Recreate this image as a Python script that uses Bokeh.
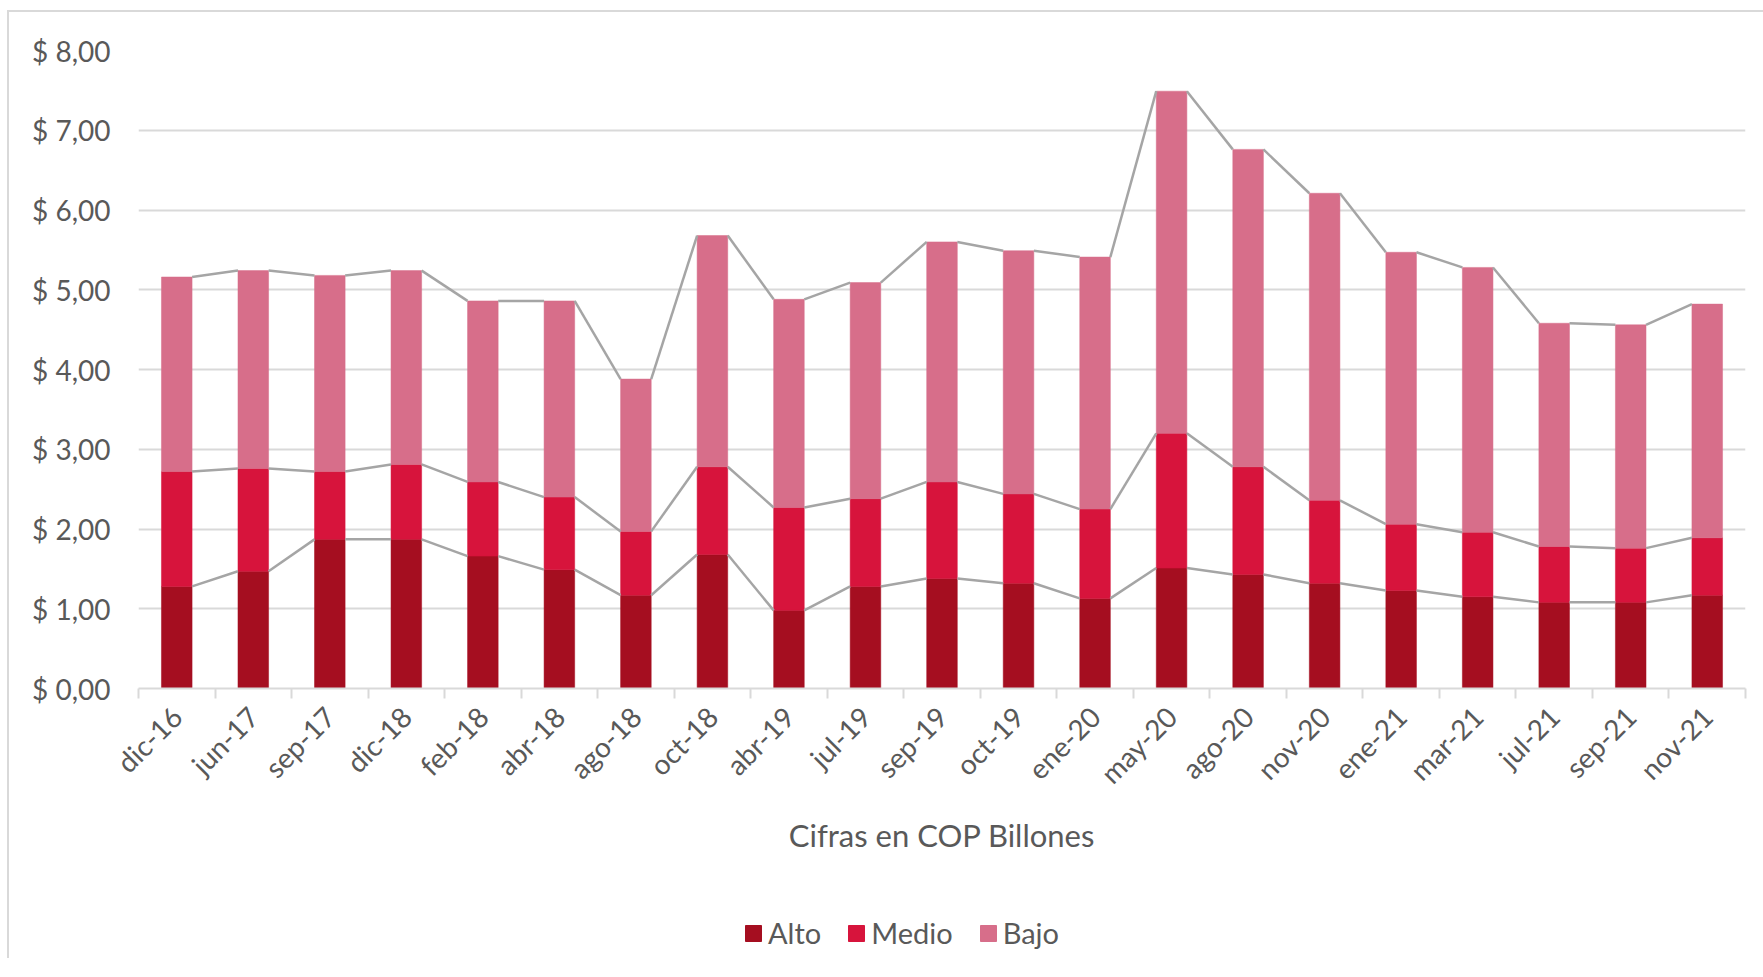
import math
from bokeh.plotting import figure
from bokeh.layouts import column
from bokeh.models import ColumnDataSource, FixedTicker, Legend, LegendItem, Range1d
from bokeh.embed import file_html
from bokeh.resources import INLINE

categories = ["dic-16", "jun-17", "sep-17", "dic-18", "feb-18", "abr-18", "ago-18",
              "oct-18", "abr-19", "jul-19", "sep-19", "oct-19", "ene-20", "may-20",
              "ago-20", "nov-20", "ene-21", "mar-21", "jul-21", "sep-21", "nov-21"]
alto = [1.28, 1.47, 1.87, 1.87, 1.66, 1.49, 1.17, 1.68, 0.98, 1.28, 1.38,
        1.32, 1.13, 1.51, 1.43, 1.32, 1.23, 1.15, 1.08, 1.08, 1.17]
medio = [1.44, 1.29, 0.85, 0.94, 0.93, 0.91, 0.80, 1.10, 1.29, 1.10, 1.21,
         1.12, 1.12, 1.69, 1.35, 1.04, 0.83, 0.81, 0.70, 0.68, 0.72]
bajo = [2.44, 2.48, 2.46, 2.43, 2.27, 2.46, 1.91, 2.90, 2.61, 2.71, 3.01,
        3.05, 3.16, 4.29, 3.98, 3.85, 3.41, 3.32, 2.80, 2.80, 2.93]
series_names = ["Alto", "Medio", "Bajo"]
series_colors = ["#A50E20", "#D7143C", "#D76E8A"]
y_ticks = [0, 1, 2, 3, 4, 5, 6, 7, 8]
y_labels = ["$ 0,00", "$ 1,00", "$ 2,00", "$ 3,00", "$ 4,00", "$ 5,00", "$ 6,00", "$ 7,00", "$ 8,00"]
axis_title = "Cifras en COP Billones"

FONT = "Lato"
TXT = "#595959"
GRID = "#D9D9D9"
BAR_W = 0.4

n = len(categories)
xs = list(range(n))
source = ColumnDataSource(dict(x=xs, Alto=alto, Medio=medio, Bajo=bajo))

p = figure(frame_width=1607, frame_height=638, output_backend="svg", toolbar_location=None,
           x_range=Range1d(-0.5, n - 0.5), y_range=Range1d(0, 8),
           min_border_left=129, min_border_top=38, min_border_right=18, min_border_bottom=190)
p.outline_line_color = None
p.background_fill_color = "white"
p.border_fill_color = "white"

renderers = p.vbar_stack(series_names, x="x", width=BAR_W, color=series_colors,
                         line_color=series_colors, line_width=0.5, source=source)

# series lines connecting the tops of each stacked level
cum = []
run = [0.0] * n
for vals in (alto, medio, bajo):
    run = [a + b for a, b in zip(run, vals)]
    cum.append(run)
for level in cum:
    p.segment(x0=[i + BAR_W / 2 for i in xs[:-1]], x1=[i + 1 - BAR_W / 2 for i in xs[:-1]],
              y0=level[:-1], y1=level[1:], line_color="#A5A5A5", line_width=2.5)

# y axis
p.yaxis.ticker = FixedTicker(ticks=y_ticks)
p.yaxis.major_label_overrides = {t: l for t, l in zip(y_ticks, y_labels)}
p.yaxis.axis_line_color = None
p.yaxis.major_tick_line_color = None
p.yaxis.minor_tick_line_color = None
p.yaxis.major_tick_out = 0
p.yaxis.major_label_standoff = 28
p.yaxis.major_label_text_font = FONT
p.yaxis.major_label_text_font_size = "28px"
p.yaxis.major_label_text_color = TXT

p.ygrid.ticker = FixedTicker(ticks=y_ticks)
p.ygrid.grid_line_color = GRID
p.ygrid.grid_line_width = 2
p.xgrid.grid_line_color = None

# x axis
p.xaxis.ticker = FixedTicker(ticks=xs, minor_ticks=[i - 0.5 for i in range(n + 1)])
p.xaxis.major_label_overrides = {i: c for i, c in zip(xs, categories)}
p.xaxis.major_label_orientation = math.pi / 4
p.xaxis.major_tick_line_color = None
p.xaxis.major_tick_out = 0
p.xaxis.major_tick_in = 0
p.xaxis.minor_tick_line_color = GRID
p.xaxis.minor_tick_line_width = 2
p.xaxis.minor_tick_out = 10
p.xaxis.minor_tick_in = 0
p.xaxis.axis_line_color = GRID
p.xaxis.axis_line_width = 2
p.xaxis.major_label_standoff = 13
p.xaxis.major_label_text_font = FONT
p.xaxis.major_label_text_font_size = "28px"
p.xaxis.major_label_text_color = TXT
p.xaxis.axis_label = axis_title
p.xaxis.axis_label_text_font = FONT
p.xaxis.axis_label_text_font_style = "normal"
p.xaxis.axis_label_text_font_size = "31px"
p.xaxis.axis_label_text_color = TXT
p.xaxis.axis_label_standoff = 11

# legend strip below the chart (swatch renderers sit outside the visible range)
lp = figure(width=1754, height=80, output_backend="svg", toolbar_location=None,
            x_range=Range1d(0, 1), y_range=Range1d(0, 1),
            x_axis_type=None, y_axis_type=None, min_border=0)
lp.outline_line_color = None
lp.xgrid.visible = False
lp.ygrid.visible = False
swatch_src = ColumnDataSource(dict(x=[-10.0], top=[0.0]))
legend_renderers = [lp.vbar(x="x", top="top", width=0.1, fill_color=c, line_color=c, source=swatch_src)
                    for c in series_colors]
legend = Legend(items=[LegendItem(label=nm, renderers=[r]) for nm, r in zip(series_names, legend_renderers)],
                orientation="horizontal", location=(605, 8),
                label_text_font=FONT, label_text_font_size="29px", label_text_color=TXT,
                glyph_width=20, glyph_height=20, label_standoff=5, spacing=25,
                border_line_color=None, background_fill_alpha=0, margin=0, padding=0)
lp.add_layout(legend, "center")

layout = column(p, lp, spacing=0)
layout.styles = {"border-top": "2px solid #D9D9D9", "border-left": "2px solid #D9D9D9",
                 "margin-left": "7px", "margin-top": "10px"}

open("out.html", "w").write(file_html(layout, INLINE))
